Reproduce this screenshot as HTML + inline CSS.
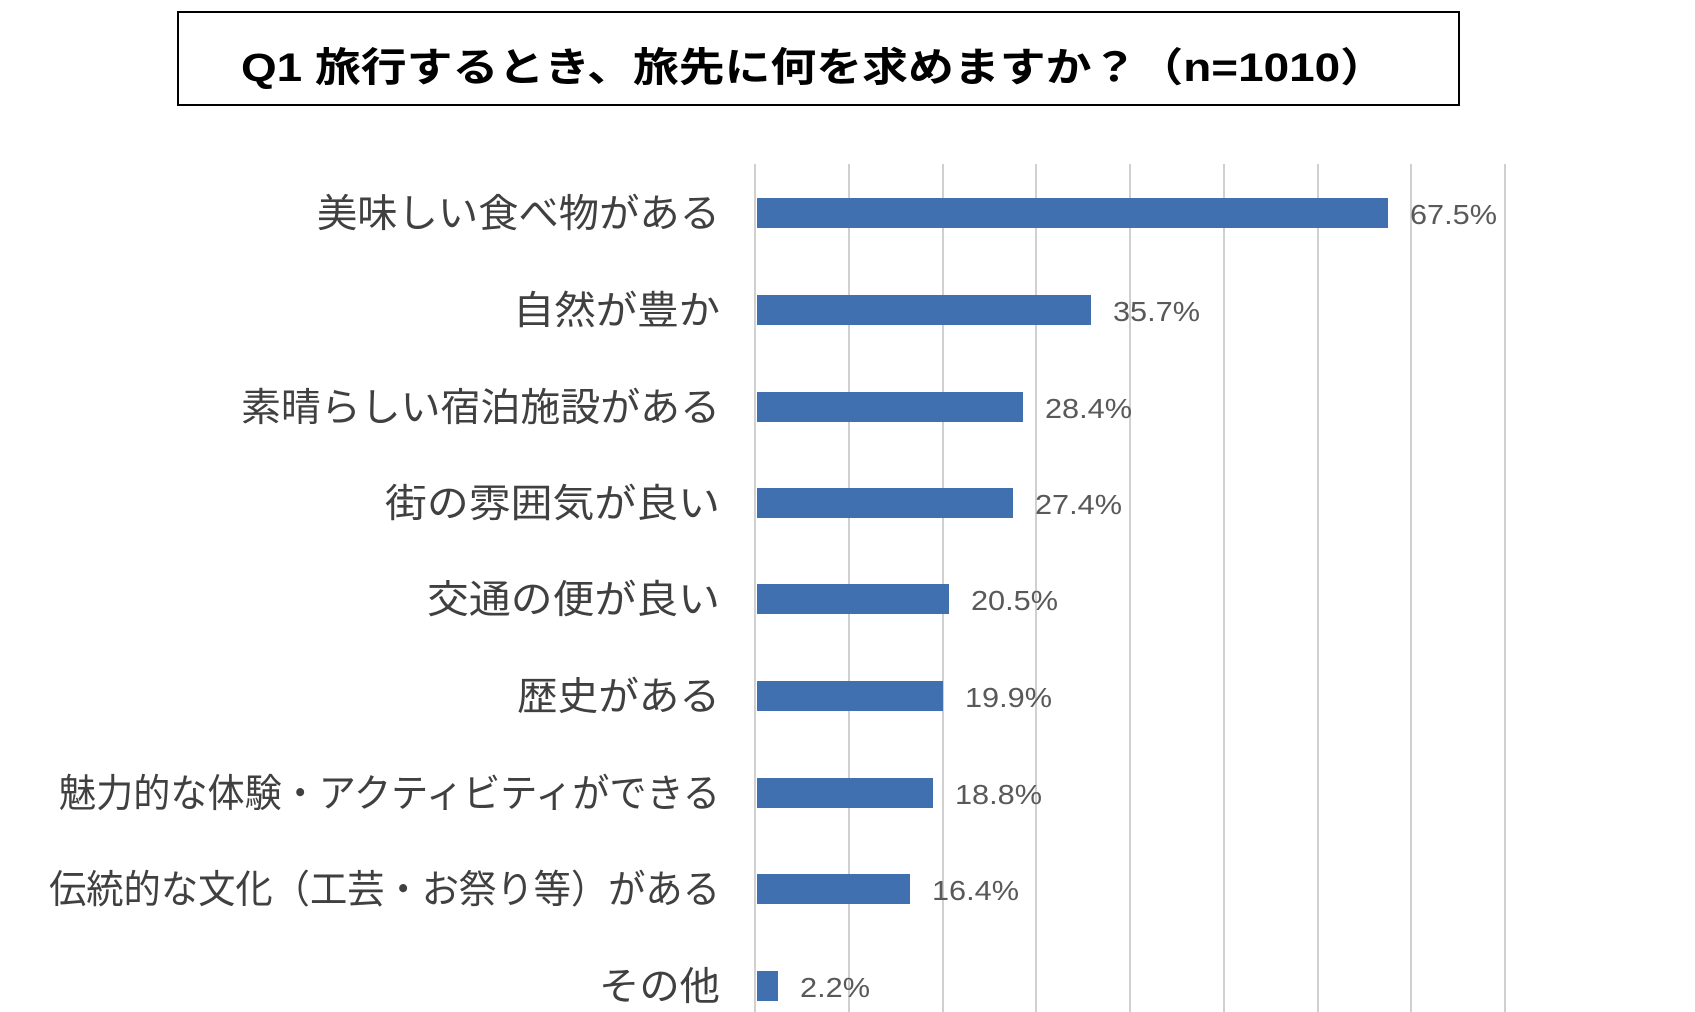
<!DOCTYPE html>
<html><head><meta charset="utf-8"><style>
html,body{margin:0;padding:0;background:#fff;}
svg{display:block;}
</style></head><body>
<svg width="1695" height="1012" viewBox="0 0 1695 1012" xmlns="http://www.w3.org/2000/svg">
<rect x="178" y="12" width="1281" height="93" fill="#fff" stroke="#000" stroke-width="2"/>
<text x="241" y="81" textLength="1145" lengthAdjust="spacingAndGlyphs" font-family="Liberation Sans, Noto Sans CJK JP, sans-serif" font-weight="bold" font-size="40" fill="#000">Q1 旅行するとき、旅先に何を求めますか？（n=1010）</text>
<g stroke="#d0d0d0" stroke-width="2">
<line x1="755" y1="164" x2="755" y2="1012"/>
<line x1="849" y1="164" x2="849" y2="1012"/>
<line x1="943" y1="164" x2="943" y2="1012"/>
<line x1="1036" y1="164" x2="1036" y2="1012"/>
<line x1="1130" y1="164" x2="1130" y2="1012"/>
<line x1="1224" y1="164" x2="1224" y2="1012"/>
<line x1="1318" y1="164" x2="1318" y2="1012"/>
<line x1="1411" y1="164" x2="1411" y2="1012"/>
<line x1="1505" y1="164" x2="1505" y2="1012"/>
</g>
<g fill="#4170b0">
<rect x="757" y="198" width="631" height="30"/>
<rect x="757" y="295" width="334" height="30"/>
<rect x="757" y="392" width="266" height="30"/>
<rect x="757" y="488" width="256" height="30"/>
<rect x="757" y="584" width="192" height="30"/>
<rect x="757" y="681" width="186" height="30"/>
<rect x="757" y="778" width="176" height="30"/>
<rect x="757" y="874" width="153" height="30"/>
<rect x="757" y="971" width="21" height="30"/>
</g>
<g font-family="Liberation Sans, Noto Sans CJK JP, sans-serif" font-size="39" fill="#404040">
<text x="317" y="227" textLength="403" lengthAdjust="spacingAndGlyphs">美味しい食べ物がある</text>
<text x="513" y="324" textLength="207" lengthAdjust="spacingAndGlyphs">自然が豊か</text>
<text x="241" y="421" textLength="479" lengthAdjust="spacingAndGlyphs">素晴らしい宿泊施設がある</text>
<text x="385" y="517" textLength="335" lengthAdjust="spacingAndGlyphs">街の雰囲気が良い</text>
<text x="427" y="613" textLength="293" lengthAdjust="spacingAndGlyphs">交通の便が良い</text>
<text x="517" y="710" textLength="203" lengthAdjust="spacingAndGlyphs">歴史がある</text>
<text x="59" y="807" textLength="661" lengthAdjust="spacingAndGlyphs">魅力的な体験・アクティビティができる</text>
<text x="49" y="903" textLength="671" lengthAdjust="spacingAndGlyphs">伝統的な文化（工芸・お祭り等）がある</text>
<text x="599" y="1000" textLength="121" lengthAdjust="spacingAndGlyphs">その他</text>
</g>
<g font-family="Liberation Sans, sans-serif" font-size="28" fill="#595959">
<text x="1410" y="224" textLength="87" lengthAdjust="spacingAndGlyphs">67.5%</text>
<text x="1113" y="321" textLength="87" lengthAdjust="spacingAndGlyphs">35.7%</text>
<text x="1045" y="418" textLength="87" lengthAdjust="spacingAndGlyphs">28.4%</text>
<text x="1035" y="514" textLength="87" lengthAdjust="spacingAndGlyphs">27.4%</text>
<text x="971" y="610" textLength="87" lengthAdjust="spacingAndGlyphs">20.5%</text>
<text x="965" y="707" textLength="87" lengthAdjust="spacingAndGlyphs">19.9%</text>
<text x="955" y="804" textLength="87" lengthAdjust="spacingAndGlyphs">18.8%</text>
<text x="932" y="900" textLength="87" lengthAdjust="spacingAndGlyphs">16.4%</text>
<text x="800" y="997" textLength="70" lengthAdjust="spacingAndGlyphs">2.2%</text>
</g>
</svg>
</body></html>
